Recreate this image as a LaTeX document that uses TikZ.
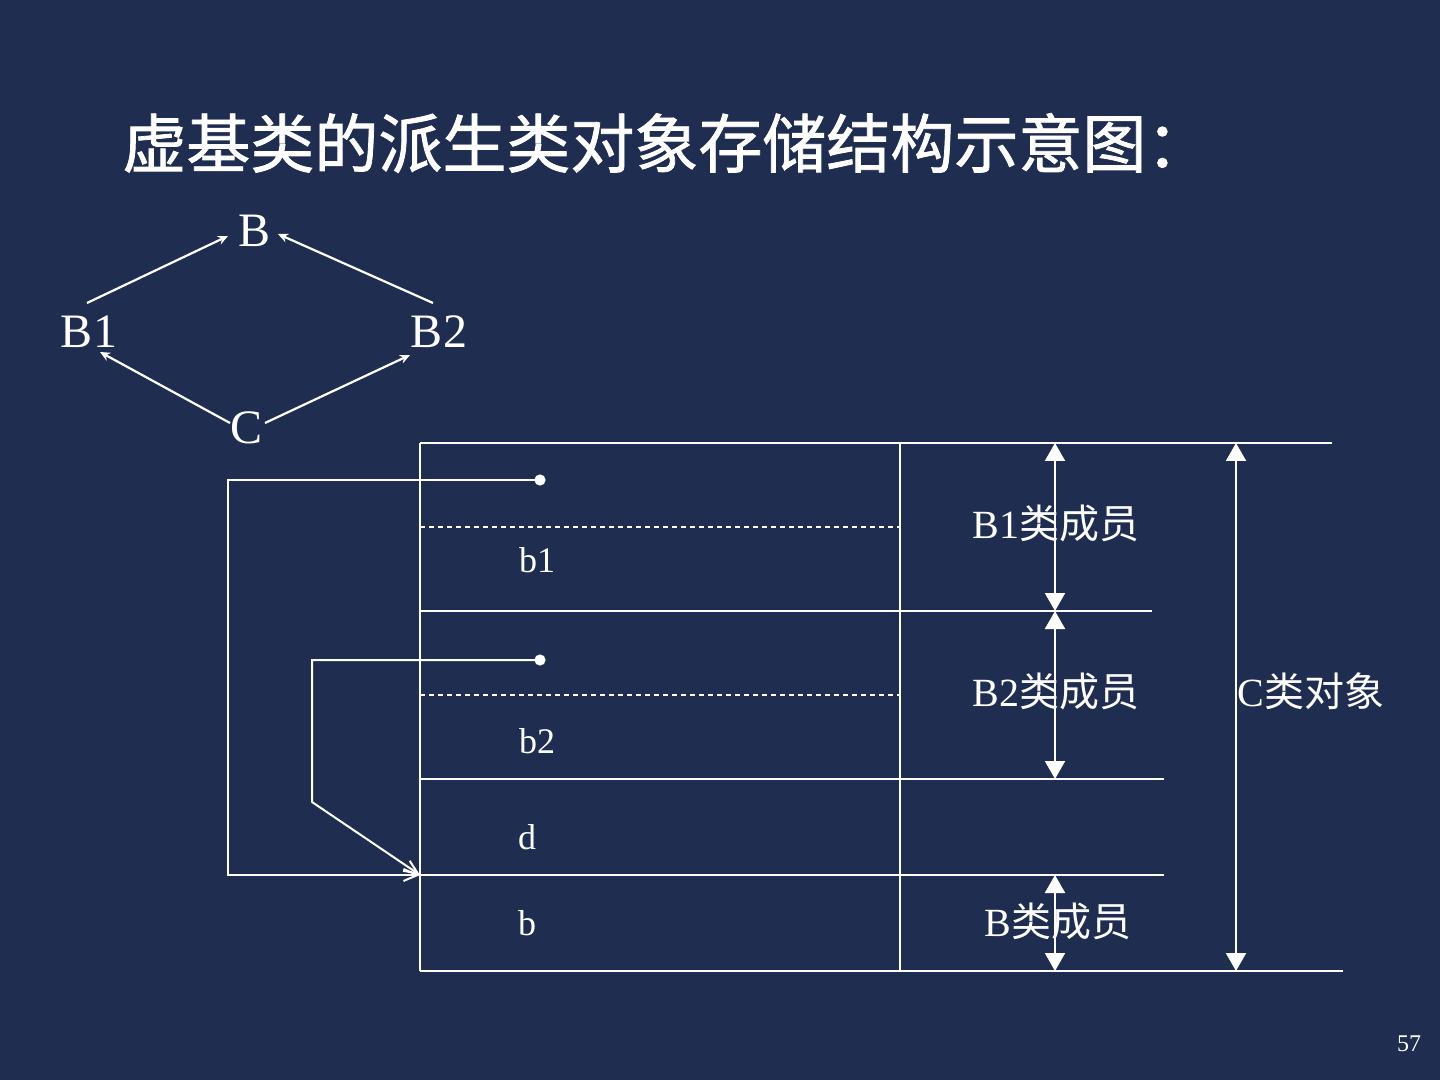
\documentclass[tikz,border=0pt]{standalone}
\usepackage{fontspec}
\setmainfont{Liberation Serif}
\newfontfamily\cjk{Noto Sans CJK SC}
\newfontfamily\cjktitle[FakeBold=1.2]{Noto Sans CJK SC}
\usetikzlibrary{arrows.meta}
\definecolor{bg}{RGB}{31,45,80}
\begin{document}
\begin{tikzpicture}[x=0.5pt,y=-0.5pt,
  every node/.style={text=white,inner sep=0pt},
  ln/.style={draw=white,line width=1pt},
  dsh/.style={draw=white,line width=1pt,dash pattern=on 2.5pt off 2pt},
  ptr/.style={draw=white,line width=1pt,-{Straight Barb[length=7pt,width=6pt]}},
  dgarr/.style={draw=white,line width=1.1pt,-{Stealth[length=5pt,width=4.5pt]}},
  dim/.style={draw=white,line width=1pt,{Triangle[width=10pt,length=9pt]}-{Triangle[width=10pt,length=9pt]}},
  lat/.style={font=\fontsize{24}{28}\selectfont},
  cell/.style={font=\fontsize{18}{22}\selectfont},
  lab/.style={font=\fontsize{20}{24}\selectfont}]
\fill[bg] (0,0) rectangle (1440,1080);
\useasboundingbox (0,0) rectangle (1440,1080);
% title
\node[anchor=west,font=\cjktitle\fontsize{32}{36}\selectfont] (title) at (122,143) {虚基类的派生类对象存储结构示意图：};
% inheritance diamond
\node[lat] (B) at (255,231) {B};
\node[lat] (B1) at (89,332) {B1};
\node[lat] (B2) at (439,332) {B2};
\node[lat] (C) at (247,428) {C};
\coordinate (b1s) at (87,303); \coordinate (bl) at (228,236);
\coordinate (b2s) at (433,303); \coordinate (br) at (278,234);
\coordinate (cl) at (230,423); \coordinate (b1e) at (100,352);
\coordinate (cr) at (265,423); \coordinate (b2e) at (410,355);
\draw[dgarr] (b1s) -- (bl);
\draw[dgarr] (b2s) -- (br);
\draw[dgarr] (cl) -- (b1e);
\draw[dgarr] (cr) -- (b2e);
% table
\coordinate (tl) at (420,443); \coordinate (bl2) at (420,971);
\coordinate (tm) at (900,443); \coordinate (bm) at (900,971);
\draw[ln] (tl) -- (bl2);
\draw[ln] (tm) -- (bm);
\draw[ln] (420,443) -- (1332,443);
\draw[ln] (420,611) -- (1152,611);
\draw[ln] (420,779) -- (1164,779);
\draw[ln] (420,875) -- (1164,875);
\draw[ln] (420,971) -- (1343,971);
\draw[dsh] (420,527) -- (900,527);
\draw[dsh] (420,695) -- (900,695);
% pointers
\coordinate (d1) at (540,480);
\coordinate (d2) at (540,660);
\coordinate (target) at (420,875);
\fill[white] (d1) circle[radius=2.8pt];
\fill[white] (d2) circle[radius=2.8pt];
\draw[ptr] (d1) -- (228,480) -- (228,875) -- (target);
\draw[ptr] (d2) -- (312,660) -- (312,802) -- (target);
% cell texts
\node[cell] (tb1) at (537,560) {b1};
\node[cell] (tb2) at (537,741) {b2};
\node[cell] (td) at (527,837) {d};
\node[cell] (tb) at (527,923) {b};
% dimension arrows
\coordinate (a0) at (1055,443); \coordinate (a1) at (1055,611);
\coordinate (a2) at (1055,779); \coordinate (a3) at (1055,875);
\coordinate (a4) at (1055,971);
\draw[dim] (a0) -- (a1);
\draw[dim] (a1) -- (a2);
\draw[dim] (a3) -- (a4);
\coordinate (c0) at (1236,443); \coordinate (c1) at (1236,971);
\draw[dim] (c0) -- (c1);
\node[lab] (lb1) at (1056,523) {B1{\cjk 类成员}};
\node[lab] (lb2) at (1056,691) {B2{\cjk 类成员}};
\node[lab] (lb) at (1058,921) {B{\cjk 类成员}};
\node[lab] (lc) at (1311,691) {C{\cjk 类对象}};
% page number
\node[font=\fontsize{12}{14}\selectfont] (pg) at (1409,1044) {57};
\end{tikzpicture}
\end{document}
